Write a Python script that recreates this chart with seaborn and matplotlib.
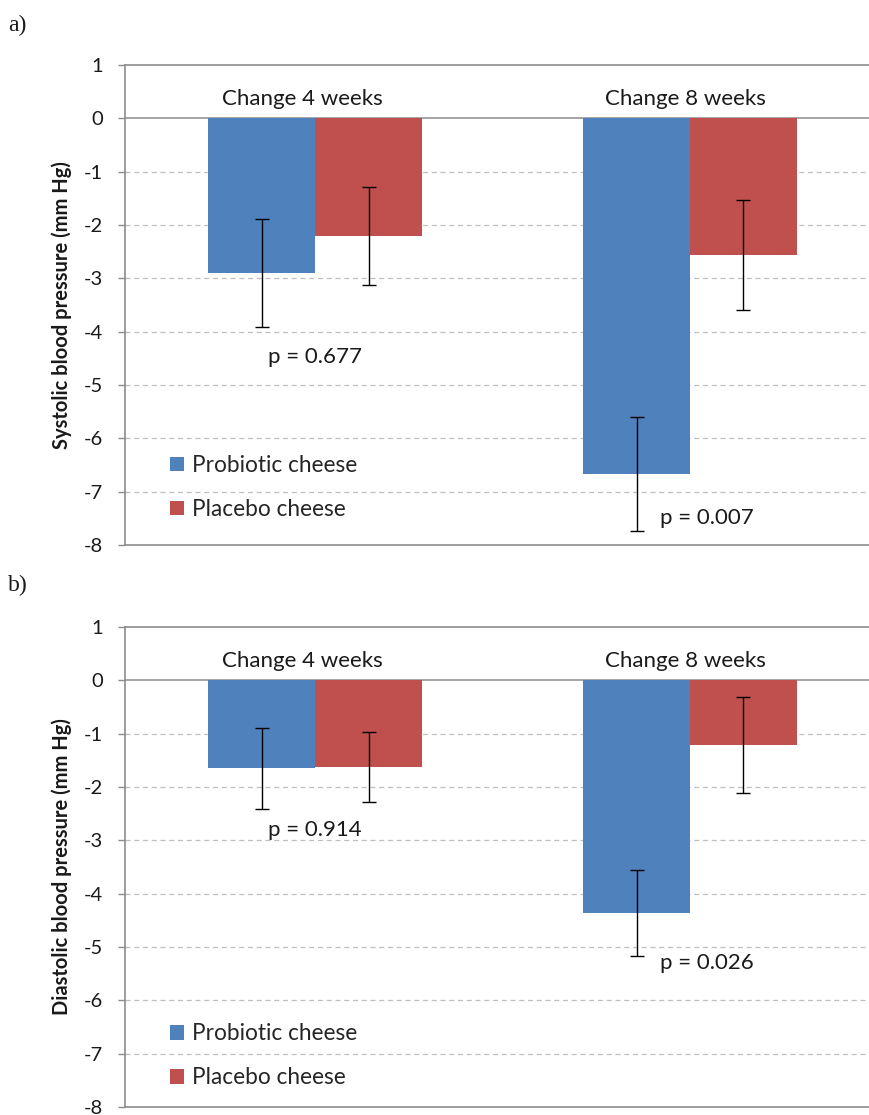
import numpy as np
import pandas as pd
import matplotlib
matplotlib.use("Agg")
import matplotlib.pyplot as plt
import seaborn as sns
from matplotlib.patches import Patch

# ---------------- data ----------------
periods = ["Change 4 weeks", "Change 8 weeks"]
groups = ["Probiotic cheese", "Placebo cheese"]

sys_probiotic = [-2.90, -6.67]
sys_placebo = [-2.21, -2.57]
sys_probiotic_err = [1.01, 1.07]
sys_placebo_err = [0.92, 1.03]
sys_pvalues = ["p = 0.677", "p = 0.007"]

dia_probiotic = [-1.65, -4.36]
dia_placebo = [-1.63, -1.21]
dia_probiotic_err = [0.76, 0.80]
dia_placebo_err = [0.66, 0.90]
dia_pvalues = ["p = 0.914", "p = 0.026"]

yticks = list(range(1, -9, -1))
panel_letters = ["a)", "b)"]
ylabels = ["Systolic blood pressure (mm Hg)", "Diastolic blood pressure (mm Hg)"]

colors = {"Probiotic cheese": "#4F81BD", "Placebo cheese": "#C0504D"}

sns.set_theme(style="white")
plt.rcParams["font.family"] = ["Lato", "DejaVu Sans"]

W, H = 870, 1115
fig = plt.figure(figsize=(W / 100, H / 100), dpi=100)


def frac_rect(left, top, right, bottom):
    return [left / W, 1 - bottom / H, (right - left) / W, (bottom - top) / H]


panels = [
    dict(rect=frac_rect(125, 65, 870, 545), prob=sys_probiotic, plac=sys_placebo,
         prob_err=sys_probiotic_err, plac_err=sys_placebo_err, pvals=sys_pvalues,
         pos=[(-0.125, -4.48), (0.92, -7.5)], leg_y=0.211, letter_y=25),
    dict(rect=frac_rect(125, 627, 870, 1107), prob=dia_probiotic, plac=dia_placebo,
         prob_err=dia_probiotic_err, plac_err=dia_placebo_err, pvals=dia_pvalues,
         pos=[(-0.125, -2.8), (0.92, -5.3)], leg_y=0.198, letter_y=585),
]

grid_color = "#BFBFBF"
axis_color = "#8C8C8C"
label_offsets = [-0.035, -0.013]

for i, p in enumerate(panels):
    ax = fig.add_axes(p["rect"])
    df = pd.DataFrame({
        "period": periods * 2,
        "group": [groups[0]] * 2 + [groups[1]] * 2,
        "value": list(p["prob"]) + list(p["plac"]),
    })
    sns.barplot(data=df, x="period", y="value", hue="group", hue_order=groups,
                order=periods, palette=colors, width=0.57, errorbar=None,
                saturation=1, legend=False, ax=ax, zorder=3)

    for container, vals, errs in zip(ax.containers, [p["prob"], p["plac"]],
                                     [p["prob_err"], p["plac_err"]]):
        for bar, v, e in zip(container, vals, errs):
            bar.set_edgecolor("none")
            x = bar.get_x() + bar.get_width() / 2
            ax.errorbar(x, v, yerr=e, fmt="none", ecolor="black", elinewidth=1.0,
                        capsize=5, capthick=1.0, zorder=4)

    ax.set_ylim(-8, 1)
    ax.set_xlim(-0.507, 1.48)
    ax.set_yticks(yticks)
    ax.set_yticklabels([str(t) for t in yticks])
    for t in yticks:
        if t == 0:
            ax.axhline(t, color=axis_color, lw=1.1, zorder=2)
        elif -8 < t < 1:
            ax.axhline(t, color=grid_color, lw=0.9, ls=(0, (4, 3)), zorder=1)

    ax.tick_params(axis="x", bottom=False, labelbottom=False)
    ax.tick_params(axis="y", left=True, length=5, width=1, color=axis_color,
                   pad=11, labelsize=14.5, labelcolor="#1a1a1a", direction="out")
    ax.set_xlabel("")
    ax.set_ylabel(ylabels[i], fontsize=14.5, fontweight="bold", color="#1a1a1a")
    ax.yaxis.set_label_coords(-0.071, 0.5)

    for side in ["left", "top", "bottom"]:
        ax.spines[side].set_visible(True)
        ax.spines[side].set_color(axis_color)
        ax.spines[side].set_linewidth(1.2)
    ax.spines["right"].set_visible(False)

    for j, name in enumerate(periods):
        ax.text(j + label_offsets[j], 0.36, name, ha="center", va="center",
                fontsize=16, color="#1a1a1a", zorder=5)

    for (px, py), txt in zip(p["pos"], p["pvals"]):
        ax.text(px, py, txt, ha="left", va="center", fontsize=16,
                color="#1a1a1a", zorder=5)

    handles = [Patch(facecolor=colors[g], edgecolor="none", label=g) for g in groups]
    ax.legend(handles=handles, loc="upper left", bbox_to_anchor=(0.045, p["leg_y"]),
              frameon=False, fontsize=16.3, handlelength=0.62, handleheight=0.62,
              handletextpad=0.35, labelspacing=1.02, borderpad=0)

    fig.text(8 / W, 1 - p["letter_y"] / H, panel_letters[i], fontsize=17,
             family="Liberation Serif", ha="left", va="center", color="#1a1a1a")

fig.savefig("out.png", dpi=100)
